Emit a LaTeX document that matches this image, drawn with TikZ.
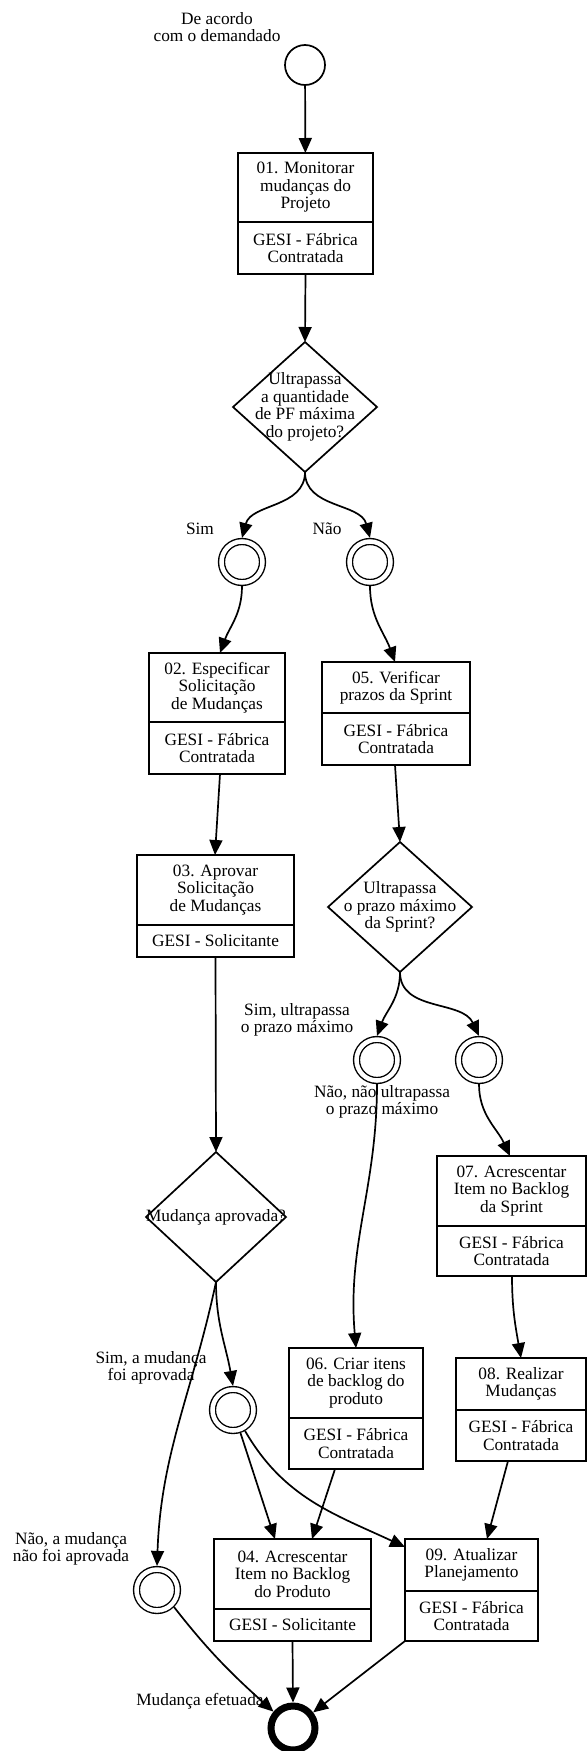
\documentclass[tikz,border=0pt]{standalone}
\usepackage{fontspec}
\setmainfont{Liberation Serif}
\usetikzlibrary{arrows.meta,shapes.geometric}
\newcommand\diafont{\fontsize{17.3}{17.5}\selectfont}
\tikzset{
  every node/.style={font=\diafont},
  flow/.style={line width=1.7pt, -{Triangle[length=15pt,width=13pt]}},
  part/.style={draw, line width=1.7pt, inner sep=0pt, outer sep=0pt, align=center},
  dec/.style={diamond, draw, line width=1.7pt, minimum width=144pt, minimum height=130pt, inner sep=0pt, outer sep=0pt},
  lbl/.style={align=center, inner sep=0pt},
  startev/.style={circle, draw, line width=1.7pt, minimum size=40pt, inner sep=0pt, outer sep=0.85pt},
  midev/.style={circle, draw, line width=1.4pt, double, double distance=4.5pt, minimum size=41pt, inner sep=0pt, outer sep=3.6pt},
  endev/.style={circle, draw, line width=7pt, minimum size=44pt, inner sep=0pt, outer sep=3.5pt},
}
\begin{document}
\begin{tikzpicture}[x=1pt,y=-1pt]
\useasboundingbox (0,0) rectangle (587,1751);

% events
\node[startev] (start) at (305,65) {};
\node[lbl] (lstart) at (217,27) {De acordo\\com o demandado};

% task 01
\node[part, minimum width=135pt, minimum height=69pt] (b01) at (305.5,187.5) {01. Monitorar\\mudanças do\\Projeto};
\node[part, minimum width=135pt, minimum height=52pt] (b01r) at (305.5,248) {GESI - Fábrica\\Contratada};

% decision 1
\node[dec] (d1) at (305,407) {};
\node[lbl] (d1t) at (d1) {Ultrapassa\\a quantidade\\de PF máxima\\do projeto?};

\node[midev] (cSim) at (242,562) {};
\node[midev] (cNao) at (370,562) {};
\node[lbl] (lSim) at (200,529) {Sim};
\node[lbl] (lNao) at (327,529) {Não};

% task 02
\node[part, minimum width=136pt, minimum height=69pt] (b02) at (217,687.5) {02. Especificar\\Solicitação\\de Mudanças};
\node[part, minimum width=136pt, minimum height=52pt] (b02r) at (217,748) {GESI - Fábrica\\Contratada};

% task 05
\node[part, minimum width=148pt, minimum height=51pt] (b05) at (396,687.5) {05. Verificar\\prazos da Sprint};
\node[part, minimum width=148pt, minimum height=52pt] (b05r) at (396,739) {GESI - Fábrica\\Contratada};

% task 03
\node[part, minimum width=157pt, minimum height=70pt] (b03) at (215.5,890) {03. Aprovar\\Solicitação\\de Mudanças};
\node[part, minimum width=157pt, minimum height=32pt] (b03r) at (215.5,941) {GESI - Solicitante};

% decision 2
\node[dec] (d2) at (400,907) {};
\node[lbl] (d2t) at (d2) {Ultrapassa\\o prazo máximo\\da Sprint?};

\node[midev] (cA) at (377,1060) {};
\node[midev] (cB) at (479,1060) {};
\node[lbl] (lA) at (297,1020) {Sim, ultrapassa\\o prazo máximo};
\node[lbl] (lB) at (382,1102) {Não, não ultrapassa\\o prazo máximo};

% task 07
\node[part, minimum width=149pt, minimum height=70pt] (b07) at (511.5,1191) {07. Acrescentar\\Item no Backlog\\da Sprint};
\node[part, minimum width=149pt, minimum height=50pt] (b07r) at (511.5,1251) {GESI - Fábrica\\Contratada};

% task 08
\node[part, minimum width=130pt, minimum height=52pt] (b08) at (521,1384) {08. Realizar\\Mudanças};
\node[part, minimum width=130pt, minimum height=51pt] (b08r) at (521,1435.5) {GESI - Fábrica\\Contratada};

% task 06
\node[part, minimum width=134pt, minimum height=70pt] (b06) at (356,1383) {06. Criar itens\\de backlog do\\produto};
\node[part, minimum width=134pt, minimum height=51pt] (b06r) at (356,1443.5) {GESI - Fábrica\\Contratada};

% decision 3
\node[dec, minimum width=140pt] (d3) at (216,1217) {};
\node[lbl] (d3t) at (d3) {Mudança aprovada?};

\node[midev] (cC) at (233,1410) {};
\node[midev] (cD) at (157,1590) {};
\node[lbl] (lC) at (151,1368) {Sim, a mudança\\foi aprovada};
\node[lbl] (lD) at (71,1549) {Não, a mudança\\não foi aprovada};

% task 04
\node[part, minimum width=157pt, minimum height=70pt] (b04) at (292.5,1574) {04. Acrescentar\\Item no Backlog\\do Produto};
\node[part, minimum width=157pt, minimum height=32pt] (b04r) at (292.5,1625) {GESI - Solicitante};

% task 09
\node[part, minimum width=133pt, minimum height=52pt] (b09) at (471.5,1565) {09. Atualizar\\Planejamento};
\node[part, minimum width=133pt, minimum height=50pt] (b09r) at (471.5,1616) {GESI - Fábrica\\Contratada};

% end
\node[endev] (endc) at (293,1728) {};
\node[lbl] (lend) at (200,1701) {Mudança efetuada};

% connectors
\draw[flow] (start) -- (b01);
\draw[flow] (b01r.south) -- (d1.north);
\draw[flow] (d1.south) to[out=-90,in=75] (cSim.north);
\draw[flow] (d1.south) to[out=-90,in=105] (cNao.north);
\draw[flow] (cSim.south) to[out=-90,in=70] ([xshift=3pt]b02.north);
\draw[flow] (cNao.south) to[out=-90,in=110] ([xshift=-1pt]b05.north);
\draw[flow] ([xshift=3pt]b02r.south) -- ([xshift=-0.5pt]b03.north);
\draw[flow] ([xshift=-1pt]b05r.south) -- (d2.north);
\draw[flow] (d2.south) to[out=-90,in=70] (cA.north);
\draw[flow] (d2.south) to[out=-90,in=115] (cB.north);
\draw[flow] (cA.south) to[out=-90,in=95] (b06.north);
\draw[flow] (cB.south) to[out=-90,in=115] ([xshift=-1.5pt]b07.north);
\draw[flow] ([xshift=0.5pt]b07r.south) to[out=-90,in=100] (b08.north);
\draw[flow] (b03r.south) -- (d3.north);
\draw[flow] (d3.south) to[out=-90,in=100] (cC.north);
\draw[flow] (d3.south) to[out=-102,in=88] (cD.north);
\draw[flow] (cC) -- ([xshift=-17.5pt]b04.north);
\draw[flow] (cC.-60) to[out=-60,in=155] ([yshift=-8pt]b09.north west);
\draw[flow] ([xshift=-21pt]b06r.south) -- ([xshift=19.5pt]b04.north);
\draw[flow] ([xshift=-13pt]b08r.south) -- ([xshift=15.5pt]b09.north);
\draw[flow] (cD.-45) to[out=-52,in=138] (endc.140);
\draw[flow] (b04r.south) -- (endc.north);
\draw[flow] (b09r.south west) -- (endc);
\end{tikzpicture}
\end{document}
